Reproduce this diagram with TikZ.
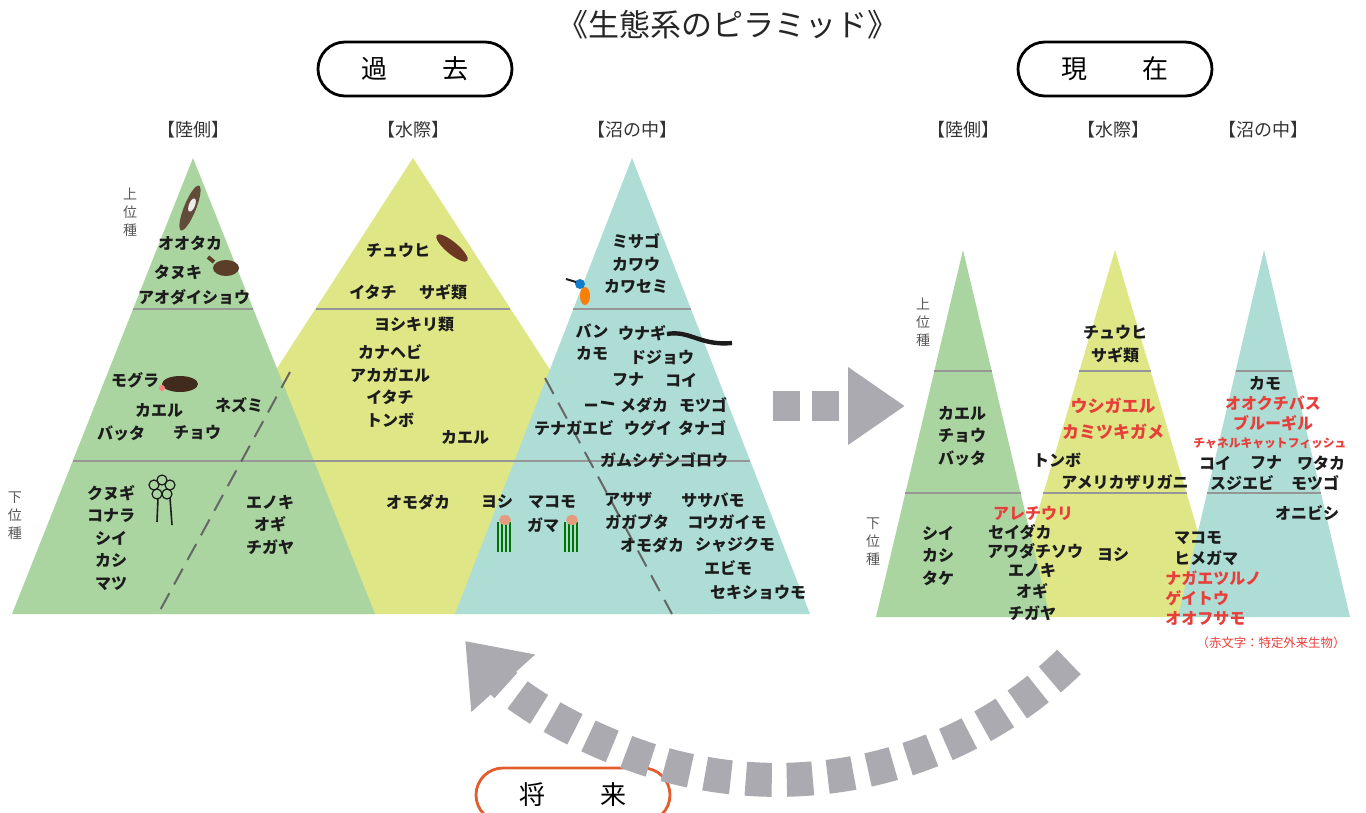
\documentclass[tikz,border=0pt]{standalone}
\usepackage{fontspec}
\newfontfamily\jp{Noto Sans CJK JP}
\usetikzlibrary{arrows.meta}

\definecolor{landG}{RGB}{170,213,161}
\definecolor{shoreY}{RGB}{222,230,134}
\definecolor{pondB}{RGB}{173,221,213}
\definecolor{ink}{RGB}{28,28,28}
\definecolor{alien}{RGB}{232,62,58}
\definecolor{flowgray}{RGB}{170,170,176}
\definecolor{rule}{RGB}{150,150,150}
\definecolor{futureor}{RGB}{226,92,46}
\definecolor{furbrown}{RGB}{92,62,40}

\begin{document}
\begin{tikzpicture}[x=0.5pt,y=-0.5pt,
    sp/.style={font=\jp\bfseries\fontsize{8}{11.25}\selectfont, text=ink, inner sep=0pt, align=center},
    redsp/.style={sp, text=alien},
    side/.style={font=\jp\fontsize{9}{11}\selectfont, text=black!80, inner sep=0pt},
    rank/.style={font=\jp\fontsize{7}{9}\selectfont, text=black!65, align=center, inner sep=0pt},
    lvl/.style={draw=rule, line width=0.8pt},
    border/.style={draw=black!60, line width=1pt, dash pattern=on 9pt off 5pt},
    era/.style={draw, line width=1.4pt, rounded corners=13.5pt, minimum width=97pt,
      minimum height=27pt, font=\jp\fontsize{13}{15}\selectfont},
    flow/.style={draw=flowgray}]
\useasboundingbox (0,0) rectangle (1366,813);
\clip (0,0) rectangle (1366,813);

% title and the three eras
\node[font=\jp\fontsize{15.5}{17}\selectfont, text=black!85] (title) at (728,25) {《生態系のピラミッド》};
\node[era] (past) at (415,69) {過\hspace{28pt}去};
\node[era] (now) at (1115,69) {現\hspace{28pt}在};
\node[era, draw=futureor] (future) at (573,795) {将\hspace{28pt}来};

% ---- past: three pyramids ----
\fill[shoreY] (413,158) -- (118,614) -- (708,614) -- cycle;
\fill[landG]  (193,158) -- (12,614)  -- (375,614) -- cycle;
\fill[pondB]  (632,158) -- (455,614) -- (810,614) -- cycle;
\draw[lvl] (133,309) -- (253,309);
\draw[lvl] (316,309) -- (510,309);
\draw[lvl] (573,309) -- (691,309);
\draw[lvl] (73,461) -- (750,461);
\draw[border] (290,372) -- (158,614);
\draw[border] (545,378) -- (672,614);

\node[side] (pLand)  at (193,130) {【陸側】};
\node[side] (pShore) at (413,130) {【水際】};
\node[side] (pPond)  at (632,130) {【沼の中】};
\node[rank] (pTop) at (130,212) {上\\位\\種};
\node[rank] (pBot) at (15,516) {下\\位\\種};

% land side
\node[sp] (p1)  at (190,243) {オオタカ};
\node[sp] (p2)  at (178,272) {タヌキ};
\node[sp] (p3)  at (194,297) {アオダイショウ};
\node[sp] (p4)  at (135,380) {モグラ};
\node[sp] (p5)  at (159,410) {カエル};
\node[sp] (p6)  at (239,405) {ネズミ};
\node[sp] (p7)  at (121,433) {バッタ};
\node[sp] (p8)  at (197,433) {チョウ};
\node[sp] (p9)  at (111,538) {クヌギ\\コナラ\\シイ\\カシ\\マツ};
\node[sp] (p10) at (270,525) {エノキ\\オギ\\チガヤ};

% water's edge
\node[sp] (p11) at (398,250) {チュウヒ};
\node[sp] (p12) at (373,292) {イタチ};
\node[sp] (p13) at (443,292) {サギ類};
\node[sp] (p14) at (414,325) {ヨシキリ類};
\node[sp] (p15) at (390,386) {カナヘビ\\アカガエル\\イタチ\\トンボ};
\node[sp] (p16) at (465,437) {カエル};
\node[sp] (p17) at (418,502) {オモダカ};
\node[sp] (p18) at (497,502) {ヨシ};
\node[sp] (p19) at (552,502) {マコモ};
\node[sp] (p20) at (543,525) {ガマ};

% in the pond
\node[sp] (p21) at (636,264) {ミサゴ\\カワウ\\カワセミ};
\node[sp] (p22) at (592,342) {バン\\カモ};
\node[sp] (p23) at (642,333) {ウナギ};
\node[sp] (p24) at (662,358) {ドジョウ};
\node[sp] (p25) at (628,380) {フナ};
\node[sp] (p26) at (681,380) {コイ};
\node[sp] (p27) at (644,405) {メダカ};
\node[sp] (p28) at (703,405) {モツゴ};
\node[sp] (p29) at (574,428) {テナガエビ};
\node[sp] (p30) at (648,428) {ウグイ};
\node[sp] (p31) at (702,428) {タナゴ};
\node[sp] (p32) at (624,460) {ガムシ};
\node[sp] (p33) at (688,460) {ゲンゴロウ};
\node[sp] (p34) at (628,500) {アサザ};
\node[sp] (p35) at (637,522) {ガガブタ};
\node[sp] (p36) at (652,545) {オモダカ};
\node[sp] (p37) at (713,500) {ササバモ};
\node[sp] (p38) at (727,522) {コウガイモ};
\node[sp] (p39) at (735,545) {シャジクモ};
\node[sp] (p40) at (728,568) {エビモ};
\node[sp] (p41) at (758,593) {セキショウモ};

% small animals and plants
\fill[furbrown!80!gray, rotate around={-22:(190,208)}] (190,208) ellipse [x radius=6, y radius=24];
\fill[white!85!gray, rotate around={-22:(192,205)}] (192,205) ellipse [x radius=3, y radius=7];
\fill[furbrown] (226,268) ellipse [x radius=13, y radius=8];
\draw[furbrown, line width=2pt] (214,262) -- (208,257);
\fill[furbrown!70!black] (180,384) ellipse [x radius=18, y radius=8];
\fill[red!50!white] (162,388) circle [radius=3];
\foreach \cx/\cy in {154/485,162/480,170/485,157/494,167/494}
  \draw[ink, line width=0.6pt] (\cx,\cy) circle [radius=5];
\draw[ink, line width=0.8pt] (158,498) -- (157,522) (170,498) -- (172,525);
\fill[furbrown!90!red, rotate around={-40:(452,248)}] (452,248) ellipse [x radius=20, y radius=6];
\foreach \rx in {505,572}{
  \foreach \dx in {-7,-3,1,5}
    \draw[green!45!black, line width=0.8pt] (\rx+\dx,522) -- (\rx+\dx,552);
  \fill[red!30!brown!60!white] (\rx,520) ellipse [x radius=6, y radius=5];
}
\fill[orange!90!brown] (585,296) ellipse [x radius=5, y radius=9];
\fill[cyan!60!blue] (580,284) circle [radius=5];
\draw[ink, line width=1pt] (576,282) -- (566,279);
\draw[ink, line width=2.2pt] (667,334) .. controls (690,330) and (700,346) .. (732,343);
\draw[ink, line width=1.4pt] (585,405) -- (597,405) (601,402) -- (614,404);

% ---- arrow from past to present ----
\coordinate (fwdA) at (773,406);
\coordinate (fwdB) at (905,406);
\draw[flow, line width=15pt, dash pattern=on 13.5pt off 6pt,
  -{Triangle[length=28.5pt,width=37pt]}] (fwdA) -- (fwdB);

% ---- present: three pyramids ----
\fill[shoreY] (1115,250) -- (1007,617) -- (1223,617) -- cycle;
\fill[landG]  (963,250)  -- (876,617)  -- (1050,617) -- cycle;
\fill[pondB]  (1264,250) -- (1178,617) -- (1350,617) -- cycle;
\draw[lvl] (934,371) -- (992,371);
\draw[lvl] (1079,371) -- (1151,371);
\draw[lvl] (1236,371) -- (1292,371);
\draw[lvl] (905,493) -- (1021,493);
\draw[lvl] (1043,493) -- (1187,493);
\draw[lvl] (1207,493) -- (1321,493);

\node[side] (nLand)  at (963,130)  {【陸側】};
\node[side] (nShore) at (1113,130) {【水際】};
\node[side] (nPond)  at (1263,130) {【沼の中】};
\node[rank] (nTop) at (923,322) {上\\位\\種};
\node[rank] (nBot) at (873,542) {下\\位\\種};

\node[sp] (n1)  at (962,436)  {カエル\\チョウ\\バッタ};
\node[sp] (n2)  at (938,556)  {シイ\\カシ\\タケ};
\node[sp] (n3)  at (1115,344) {チュウヒ\\サギ類};
\node[redsp, font=\jp\bfseries\fontsize{8.5}{13}\selectfont] (n4) at (1113,419) {ウシガエル\\カミツキガメ};
\node[sp] (n5)  at (1057,460) {トンボ};
\node[sp] (n6)  at (1125,482) {アメリカザリガニ};
\node[redsp] (n7) at (1033,513) {アレチウリ};
\node[sp] (n8)  at (1020,532) {セイダカ};
\node[sp] (n9)  at (1035,551) {アワダチソウ};
\node[sp, font=\jp\bfseries\fontsize{8}{10.75}\selectfont] (n10) at (1032,592) {エノキ\\オギ\\チガヤ};
\node[sp] (n11) at (1113,555) {ヨシ};
\node[sp] (n12) at (1265,383) {カモ};
\node[redsp, font=\jp\bfseries\fontsize{8}{10}\selectfont] (n13) at (1273,413) {オオクチバス\\ブルーギル};
\node[redsp, font=\jp\bfseries\fontsize{5.9}{7}\selectfont] (n14) at (1270,443) {チャネルキャットフィッシュ};
\node[sp] (n15) at (1215,463) {コイ};
\node[sp] (n16) at (1266,463) {フナ};
\node[sp] (n17) at (1321,463) {ワタカ};
\node[sp] (n18) at (1242,483) {スジエビ};
\node[sp] (n19) at (1315,483) {モツゴ};
\node[sp] (n20) at (1307,513) {オニビシ};
\node[sp] (n21) at (1198,538) {マコモ};
\node[sp] (n22) at (1206,558) {ヒメガマ};
\node[redsp, align=left, anchor=west, font=\jp\bfseries\fontsize{8}{10}\selectfont] (n23) at (1165,598) {ナガエツルノ\\ゲイトウ\\オオフサモ};
\node[font=\jp\fontsize{6.2}{7}\selectfont, text=alien, inner sep=0pt] (n24) at (1271,643) {（赤文字：特定外来生物）};

% ---- arrow from present back toward the past ----
\coordinate (backA) at (1069,662);
\draw[flow, line width=17pt, dash pattern=on 13pt off 7.5pt,
  -{Triangle[length=28.5pt,width=41pt]}] (backA) arc[start angle=46, end angle=138, radius=420];
\end{tikzpicture}
\end{document}
